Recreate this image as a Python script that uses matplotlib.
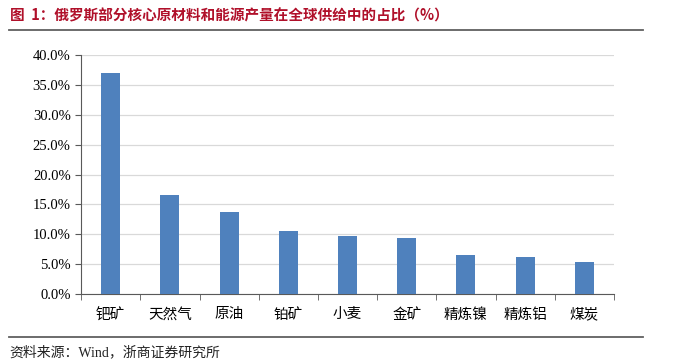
import numpy as np
import matplotlib.pyplot as plt
from matplotlib.lines import Line2D
from matplotlib.ticker import FuncFormatter

categories = ['钯矿', '天然气', '原油', '铂矿', '小麦', '金矿', '精炼镍', '精炼铝', '煤炭']
shares = [37.0, 16.6, 13.7, 10.5, 9.7, 9.4, 6.5, 6.2, 5.4]
title = '图  1：俄罗斯部分核心原材料和能源产量在全球供给中的占比（%）'
source = '资料来源：Wind，浙商证券研究所'

plt.rcParams['font.family'] = ['Liberation Serif', 'Noto Sans CJK SC', 'DejaVu Sans']

fig = plt.figure(figsize=(6.93, 3.64), dpi=100)
ax = fig.add_axes([0.117, 0.192, 0.769, 0.657])

x = np.arange(len(categories))
ax.bar(x, shares, width=0.32, color='#4f81bd', zorder=3)

ax.set_xlim(-0.5, len(categories) - 0.5)
ax.set_ylim(0, 40)
ax.set_yticks(np.arange(0, 40.1, 5))
ax.yaxis.set_major_formatter(FuncFormatter(lambda v, p: '%.1f%%' % v))
ax.grid(axis='y', color='#d9d9d9', linewidth=0.9, zorder=0)

ax.set_xticks(x)
ax.set_xticklabels(categories, fontsize=10.5)
ax.set_xticks(np.arange(-0.5, len(categories)), minor=True)
ax.tick_params(axis='x', which='major', length=0, pad=10)
ax.tick_params(axis='x', which='minor', length=4, color='#595959')
ax.tick_params(axis='y', length=4, color='#595959', labelsize=10.5)

for s in ['top', 'right']:
    ax.spines[s].set_visible(False)
for s in ['left', 'bottom']:
    ax.spines[s].set_color('#595959')

fig.text(0.014, 0.957, title, fontsize=10.5, fontweight='bold', color='#b0102a',
         family=['Noto Sans CJK SC', 'DejaVu Sans'], va='center')
fig.add_artist(Line2D([0.013, 0.928], [0.918, 0.918], color='#606060', linewidth=1.3))
fig.add_artist(Line2D([0.013, 0.928], [0.074, 0.074], color='#606060', linewidth=1.3))
fig.text(0.014, 0.033, source, fontsize=10, color='#222222', va='center')

fig.savefig('out.png', dpi=100)
